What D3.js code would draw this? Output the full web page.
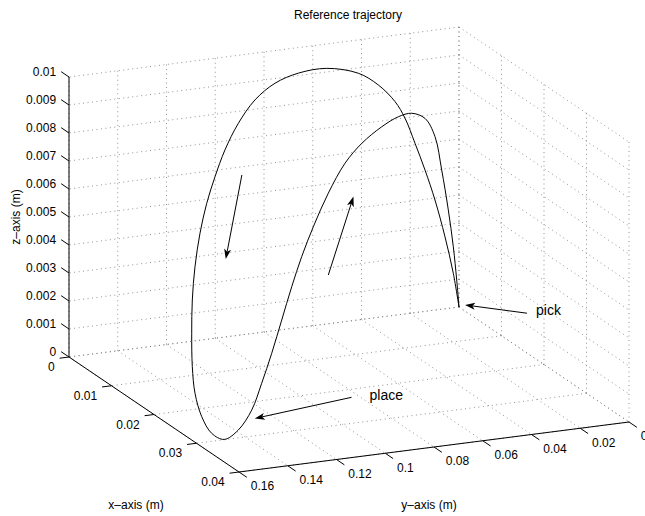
<!DOCTYPE html>
<html>
<head>
<meta charset="utf-8">
<script src="https://cdn.jsdelivr.net/npm/d3@7"></script>
<style>
  body { margin: 0; background: #fff; }
  text { font-family: "Liberation Sans", Arial, Helvetica, sans-serif; fill: #000; }
</style>
</head>
<body>
<svg id="chart"></svg>
<script>
// Axis ticks
const xTicks = [0, 0.01, 0.02, 0.03, 0.04];
const yTicks = [0, 0.02, 0.04, 0.06, 0.08, 0.1, 0.12, 0.14, 0.16];
const zTicks = [0, 0.001, 0.002, 0.003, 0.004, 0.005, 0.006, 0.007, 0.008, 0.009, 0.01];

// Trajectory: pick -> high arc -> place -> lower arc -> pick
const trajX = [0, 0, 0, 0, 0, 0, 0, 0, 0, 0, 0.0005, 0.0015, 0.003, 0.0045, 0.006, 0.008, 0.010, 0.012,
  0.014, 0.016, 0.018, 0.020, 0.022, 0.024, 0.026, 0.028, 0.030,
  0.0295, 0.029, 0.028, 0.027, 0.026, 0.025, 0.024, 0.023, 0.022, 0.021, 0.020, 0.019, 0.018, 0.016,
  0.0135, 0.011, 0.0085, 0.006, 0.004, 0.002, 0];
const trajY = [0, 0.00234, 0.00574, 0.00985, 0.01395, 0.01805, 0.02215, 0.02626, 0.03311, 0.04131,
  0.05515, 0.06854, 0.08072, 0.09154, 0.10101, 0.10995, 0.11754, 0.12443, 0.13067, 0.13621, 0.14080,
  0.14453, 0.14777, 0.15015, 0.15089, 0.15028, 0.14860,
  0.14198, 0.13561, 0.12977, 0.12392, 0.11807, 0.11223, 0.10638, 0.09988, 0.09198, 0.08338, 0.07479,
  0.06484, 0.05629, 0.04730, 0.03749, 0.02903, 0.02192, 0.01485, 0.00931, 0.00443, 0];
const trajZ = [0, 0.00123, 0.00257, 0.00393, 0.00505, 0.00605, 0.00699, 0.00763, 0.00830, 0.00881,
  0.00919, 0.00927, 0.00920, 0.00888, 0.00830, 0.00766, 0.00699, 0.00632, 0.00553, 0.00460, 0.00367,
  0.00273, 0.00178, 0.00106, 0.00044, 0.00004, 0.00001,
  0.00022, 0.00081, 0.00160, 0.00250, 0.00352, 0.00454, 0.00545, 0.00634, 0.00735, 0.00822, 0.00873,
  0.00911, 0.00927, 0.00909, 0.00854, 0.00754, 0.00601, 0.00425, 0.00267, 0.00122, 0];

// Annotations (normalized figure units, like MATLAB annotation)
const arrowTails = [[0.817, 0.393], [0.545, 0.230], [0.375, 0.661], [0.509, 0.467]];
const arrowHeads = [[0.721, 0.409], [0.395, 0.189], [0.350, 0.498], [0.548, 0.619]];
const noteText = ["pick", "place"];
const notePos = [[0.831, 0.389], [0.573, 0.225]];

const W = 645, H = 516;
const svg = d3.select("#chart").attr("width", W).attr("height", H);

// 3D projection built from per-axis scales (screen offsets from the x=0,y=0,z=0 corner)
const origin = [459, 307];
const xToSx = d3.scaleLinear().domain([0, 0.04]).range([0, 170]);
const xToSy = d3.scaleLinear().domain([0, 0.04]).range([0, 115]);
const yToSx = d3.scaleLinear().domain([0, 0.16]).range([0, -390]);
const yToSy = d3.scaleLinear().domain([0, 0.16]).range([0, 50]);
const zToSy = d3.scaleLinear().domain([0, 0.01]).range([0, -280]);
const proj = (x, y, z) => [origin[0] + xToSx(x) + yToSx(y), origin[1] + xToSy(x) + yToSy(y) + zToSy(z)];

const xMax = 0.04, yMax = 0.16, zMax = 0.01;

// Grid on back walls and floor
const grid = [];
yTicks.forEach(y => grid.push([[0, y, 0], [0, y, zMax]]));
zTicks.forEach(z => grid.push([[0, 0, z], [0, yMax, z]]));
xTicks.forEach(x => grid.push([[x, 0, 0], [x, 0, zMax]]));
zTicks.forEach(z => grid.push([[0, 0, z], [xMax, 0, z]]));
xTicks.forEach(x => grid.push([[x, 0, 0], [x, yMax, 0]]));
yTicks.forEach(y => grid.push([[0, y, 0], [xMax, y, 0]]));

svg.append("g").selectAll("line").data(grid).enter().append("line")
  .attr("x1", d => proj(...d[0])[0]).attr("y1", d => proj(...d[0])[1])
  .attr("x2", d => proj(...d[1])[0]).attr("y2", d => proj(...d[1])[1])
  .attr("stroke", "#777").attr("stroke-width", 0.8).attr("stroke-dasharray", "1,3.5");

// Axes lines
const axes = [
  [[0, yMax, 0], [0, yMax, zMax]],
  [[0, yMax, 0], [xMax, yMax, 0]],
  [[xMax, yMax, 0], [xMax, 0, 0]]
];
svg.append("g").selectAll("line").data(axes).enter().append("line")
  .attr("x1", d => proj(...d[0])[0]).attr("y1", d => proj(...d[0])[1])
  .attr("x2", d => proj(...d[1])[0]).attr("y2", d => proj(...d[1])[1])
  .attr("stroke", "#000").attr("stroke-width", 1);

// Tick direction helper
function unit(a, b) {
  const dx = b[0] - a[0], dy = b[1] - a[1], l = Math.hypot(dx, dy);
  return [dx / l, dy / l];
}
const tickLen = 9.5;
const uZ = unit(proj(0, 0, 0), proj(-1, 0, 0));   // z ticks point toward -x
const uX = unit(proj(0, 0, 0), proj(0, 1, 0));    // x ticks point toward +y
const uY = unit(proj(0, 0, 0), proj(1, 0, 0));    // y ticks point toward +x

const fmt = d => String(+d.toFixed(4));

function drawTicks(ticks, at, u, labelDx, labelDy, anchor) {
  const g = svg.append("g");
  ticks.forEach(t => {
    const p = at(t);
    const e = [p[0] + u[0] * tickLen, p[1] + u[1] * tickLen];
    g.append("line").attr("x1", p[0]).attr("y1", p[1]).attr("x2", e[0]).attr("y2", e[1])
      .attr("stroke", "#000").attr("stroke-width", 1);
    g.append("text").attr("x", e[0] + labelDx).attr("y", e[1] + labelDy)
      .attr("text-anchor", anchor).attr("dominant-baseline", "central")
      .attr("font-size", 12).text(fmt(t));
  });
}
drawTicks(zTicks, z => proj(0, yMax, z), uZ, -5, 0, "end");
drawTicks(xTicks, x => proj(x, yMax, 0), uX, -5, 9, "end");
drawTicks(yTicks, y => proj(xMax, y, 0), uY, 4, 9, "start");

// Trajectory
const pts = trajX.map((x, i) => proj(x, trajY[i], trajZ[i]));
svg.append("path")
  .datum(pts)
  .attr("fill", "none")
  .attr("stroke", "#000")
  .attr("stroke-width", 1)
  .attr("d", d3.line().curve(d3.curveCatmullRom.alpha(0.5)));

// Axis labels and title
svg.append("text").attr("x", 348).attr("y", 19).attr("text-anchor", "middle")
  .attr("font-size", 12).text("Reference trajectory");
svg.append("text").attr("x", 136).attr("y", 509).attr("text-anchor", "middle")
  .attr("font-size", 12).text("x\u2013axis (m)");
svg.append("text").attr("x", 429).attr("y", 509).attr("text-anchor", "middle")
  .attr("font-size", 12).text("y\u2013axis (m)");
svg.append("text").attr("transform", "translate(19.5,217) rotate(-90)").attr("text-anchor", "middle")
  .attr("font-size", 12).text("z\u2013axis (m)");

// Annotations
const fx = d3.scaleLinear().domain([0, 1]).range([0, W]);
const fy = d3.scaleLinear().domain([0, 1]).range([H, 0]);
const ann = svg.append("g");
arrowTails.forEach((t, i) => {
  const a = [fx(t[0]), fy(t[1])], b = [fx(arrowHeads[i][0]), fy(arrowHeads[i][1])];
  const u = unit(a, b), n = [-u[1], u[0]];
  const L = 10, hw = 3.5;
  const back = [b[0] - u[0] * L, b[1] - u[1] * L];
  const notch = [b[0] - u[0] * L * 0.75, b[1] - u[1] * L * 0.75];
  ann.append("line").attr("x1", a[0]).attr("y1", a[1]).attr("x2", notch[0]).attr("y2", notch[1])
    .attr("stroke", "#000").attr("stroke-width", 1);
  ann.append("polygon")
    .attr("points", [b, [back[0] + n[0] * hw, back[1] + n[1] * hw], notch,
      [back[0] - n[0] * hw, back[1] - n[1] * hw]].map(p => p.join(",")).join(" "))
    .attr("fill", "#000");
});
noteText.forEach((s, i) => {
  ann.append("text").attr("x", fx(notePos[i][0])).attr("y", fy(notePos[i][1]))
    .attr("font-size", 14).text(s);
});
</script>
</body>
</html>
